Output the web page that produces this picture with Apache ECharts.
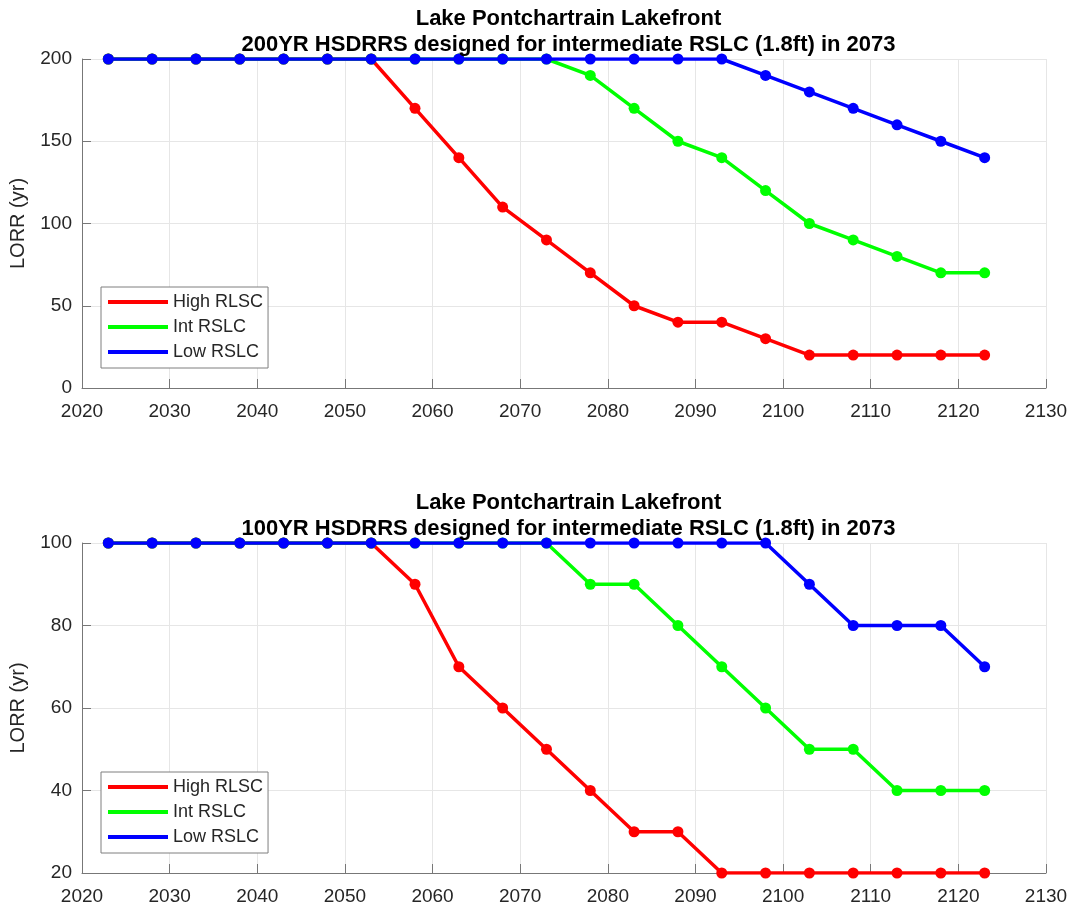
<!DOCTYPE html>
<html>
<head>
<meta charset="utf-8">
<script src="https://cdn.jsdelivr.net/npm/echarts@6/dist/echarts.min.js"></script>
<style>html,body{margin:0;padding:0;background:#fff;}#c{width:1072px;height:907px;}</style>
</head>
<body>
<div id="c"></div>
<script>
var years = [2023,2028,2033,2038,2043,2048,2053,2058,2063,2068,2073,2078,2083,2088,2093,2098,2103,2108,2113,2118,2123];
var seriesNames = ['High RLSC','Int RSLC','Low RSLC'];
var top_high = [200,200,200,200,200,200,200,170,140,110,90,70,50,40,40,30,20,20,20,20,20];
var top_int  = [200,200,200,200,200,200,200,200,200,200,200,190,170,150,140,120,100,90,80,70,70];
var top_low  = [200,200,200,200,200,200,200,200,200,200,200,200,200,200,200,190,180,170,160,150,140];
var bot_high = [100,100,100,100,100,100,100,90,70,60,50,40,30,30,20,20,20,20,20,20,20];
var bot_int  = [100,100,100,100,100,100,100,100,100,100,100,90,90,80,70,60,50,50,40,40,40];
var bot_low  = [100,100,100,100,100,100,100,100,100,100,100,100,100,100,100,100,90,80,80,80,70];
var titleTop = ['Lake Pontchartrain Lakefront','200YR HSDRRS designed for intermediate RSLC (1.8ft) in 2073'];
var titleBot = ['Lake Pontchartrain Lakefront','100YR HSDRRS designed for intermediate RSLC (1.8ft) in 2073'];
var colors = ['#ff0000','#00ff00','#0000ff'];

function pairs(v){ return years.map(function(y,i){return [y,v[i]];}); }
var FONT = 'Liberation Sans, Arial, sans-serif';
var axisColor = '#777777';
var textColor = '#262626';

function xAxis(idx){
  return {
    type:'value', gridIndex:idx, min:2020, max:2130, interval:10,
    axisLine:{show:true, lineStyle:{color:axisColor, width:1}},
    axisTick:{show:true, inside:true, length:9, lineStyle:{color:axisColor}},
    axisLabel:{color:textColor, fontSize:19, fontFamily:FONT, margin:14,
      formatter:function(v){return String(v);}},
    splitLine:{show:true, lineStyle:{color:'#e6e6e6', width:1}}
  };
}
function yAxis(idx,min,max,interval){
  return {
    type:'value', gridIndex:idx, min:min, max:max, interval:interval,
    name:'LORR (yr)', nameLocation:'middle', nameGap:54,
    nameTextStyle:{color:textColor, fontSize:20, fontFamily:FONT},
    axisLine:{show:true, lineStyle:{color:axisColor, width:1}},
    axisTick:{show:true, inside:true, length:9, lineStyle:{color:axisColor}},
    axisLabel:{color:textColor, fontSize:19, fontFamily:FONT, margin:10},
    splitLine:{show:true, lineStyle:{color:'#e6e6e6', width:1}}
  };
}
function mkSeries(name, data, idx, color, z){
  return {
    name:name, type:'line', xAxisIndex:idx, yAxisIndex:idx, data:pairs(data),
    symbol:'circle', symbolSize:11, showSymbol:true,
    lineStyle:{color:color, width:3.5}, itemStyle:{color:color},
    z:z, animation:false
  };
}
function mkLegend(top){
  return {
    orient:'vertical', left:101, top:top, data:seriesNames,
    icon:'rect', itemWidth:60, itemHeight:4, itemGap:7,
    padding:[6,5,7,7], borderColor:'#7f7f7f', borderWidth:1, backgroundColor:'#ffffff',
    textStyle:{color:textColor, fontSize:18, fontFamily:FONT, lineHeight:18},
    selectedMode:false
  };
}
function mkTitle(text, top){
  return {text:text, left:563.5, top:top, textAlign:'center',
    textStyle:{color:'#000', fontSize:22, fontWeight:'bold', fontFamily:FONT, lineHeight:22}};
}

var chart = echarts.init(document.getElementById('c'), null, {renderer:'canvas'});
chart.setOption({
  backgroundColor:'#ffffff',
  animation:false,
  title:[mkTitle(titleTop[0],2.5), mkTitle(titleTop[1],29), mkTitle(titleBot[0],486.5), mkTitle(titleBot[1],513)],
  legend:[mkLegend(287), mkLegend(772)],
  grid:[
    {left:81, right:26, top:59, height:329},
    {left:81, right:26, top:543, height:330}
  ],
  xAxis:[xAxis(0), xAxis(1)],
  yAxis:[yAxis(0,0,200,50), yAxis(1,20,100,20)],
  series:[
    mkSeries(seriesNames[0], top_high, 0, colors[0], 2),
    mkSeries(seriesNames[1], top_int, 0, colors[1], 3),
    mkSeries(seriesNames[2], top_low, 0, colors[2], 4),
    mkSeries(seriesNames[0], bot_high, 1, colors[0], 2),
    mkSeries(seriesNames[1], bot_int, 1, colors[1], 3),
    mkSeries(seriesNames[2], bot_low, 1, colors[2], 4)
  ]
});
</script>
</body>
</html>
